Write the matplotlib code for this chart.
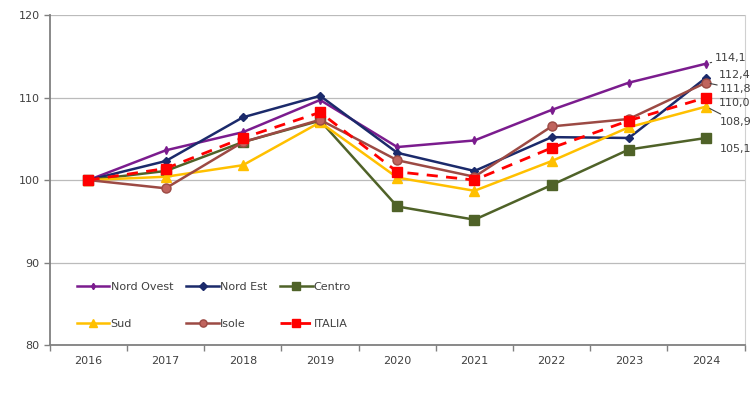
"""
Indice per ripartizione 2016-2024 (2016 = 100)
"""

import matplotlib
matplotlib.use("Agg")
import matplotlib.pyplot as plt
import numpy as np


years = ["2016", "2017", "2018", "2019", "2020", "2021", "2022", "2023", "2024"]

nord_ovest = [100, 103.6, 105.8, 109.7, 104.0, 104.8, 108.5, 111.8, 114.1]
nord_est = [100, 102.3, 107.6, 110.2, 103.3, 101.1, 105.2, 105.1, 112.4]
centro = [100, 101.1, 104.6, 107.2, 96.8, 95.2, 99.4, 103.7, 105.1]
sud = [100, 100.4, 101.8, 107.0, 100.3, 98.7, 102.3, 106.4, 108.9]
isole = [100, 99.0, 104.6, 107.3, 102.4, 100.4, 106.5, 107.4, 111.8]
italia = [100, 101.4, 105.1, 108.2, 101.0, 100.0, 103.9, 107.2, 110.0]

# end labels: text, offset in points (dx, dy), leader line?
END_LABELS = {
    "Nord Ovest": ("114,1", (6, 4), True),
    "Nord Est": ("112,4", (9, 2), False),
    "Isole": ("111,8", (10, -4.5), True),
    "ITALIA": ("110,0", (9, -4), False),
    "Sud": ("108,9", (10, -11), True),
    "Centro": ("105,1", (10, -8), False),
}

# label, values, colour, marker, marker size, marker face, line style
SERIES = [
    ("Nord Ovest", nord_ovest, "#7B1C8E", "d", 4, "#7B1C8E", "-"),
    ("Nord Est", nord_est, "#1B2A6B", "D", 4.5, "#1B2A6B", "-"),
    ("Centro", centro, "#4F6228", "s", 6.5, "#4F6228", "-"),
    ("Sud", sud, "#FFC000", "^", 6.5, "#FFC000", "-"),
    ("Isole", isole, "#9C4A44", "o", 6.5, "#C0645E", "-"),
    ("ITALIA", italia, "#FF0000", "s", 7, "#FF0000", "--"),
]

TEXT_COL = "#404040"

fig = plt.figure(figsize=(7.56, 3.94), dpi=100)
ax = fig.add_axes([0.066, 0.124, 0.919, 0.838])

x = np.arange(len(years))
handles = {}
for name, vals, col, mk, ms, mfc, ls in SERIES:
    (ln,) = ax.plot(x, vals, color=col, linestyle=ls, linewidth=2 if ls == "--" else 1.8,
                    dashes=(4, 3) if ls == "--" else (None, None),
                    marker=mk, markersize=ms, markerfacecolor=mfc,
                    markeredgecolor=col, label=name, zorder=3)
    handles[name] = ln

# end-of-line value labels
for name, vals, col, mk, ms, mfc, ls in SERIES:
    txt, (dx, dy), leader = END_LABELS[name]
    ax.annotate(txt, xy=(x[-1], vals[-1]), xytext=(dx, dy),
                textcoords="offset points", fontsize=8, color=TEXT_COL,
                ha="left", va="center",
                arrowprops=dict(arrowstyle="-", color="#404040", lw=0.8,
                                shrinkA=0, shrinkB=3) if leader else None,
                annotation_clip=False, zorder=4)

ax.set_ylim(80, 120)
ax.set_xlim(-0.5, len(years) - 0.5)
ax.set_yticks([80, 90, 100, 110, 120])
ax.tick_params(axis="y", labelsize=8, labelcolor=TEXT_COL, color="#808080",
               length=4, width=1)
ax.yaxis.grid(True, color="#BBBBBB", linewidth=0.9)
ax.set_axisbelow(True)

# x: ticks at the category boundaries, labels at the centres
ax.set_xticks(np.arange(-0.5, len(years), 1.0))
ax.set_xticklabels([])
ax.tick_params(axis="x", which="major", color="#808080", length=4, width=1)
ax.set_xticks(x, minor=True)
ax.set_xticklabels(years, minor=True)
ax.tick_params(axis="x", which="minor", length=0, labelsize=8,
               labelcolor=TEXT_COL, pad=8)

ax.spines["top"].set_visible(False)
ax.spines["right"].set_color("#D0D0D0")
ax.spines["left"].set_color("#808080")
ax.spines["bottom"].set_color("#808080")
ax.spines["left"].set_linewidth(1.3)
ax.spines["bottom"].set_linewidth(1.3)

# legend filled row by row like the original (matplotlib fills by column)
order = ["Nord Ovest", "Sud", "Nord Est", "Isole", "Centro", "ITALIA"]
leg = ax.legend([handles[n] for n in order], order, ncol=3, loc="lower left",
                bbox_to_anchor=(0.025, 0.02), frameon=False, fontsize=8,
                handlelength=2.9, handletextpad=0.1, columnspacing=1.2,
                labelspacing=2.4, labelcolor=TEXT_COL, markerscale=0.8)

fig.savefig("out.png", dpi=100)
